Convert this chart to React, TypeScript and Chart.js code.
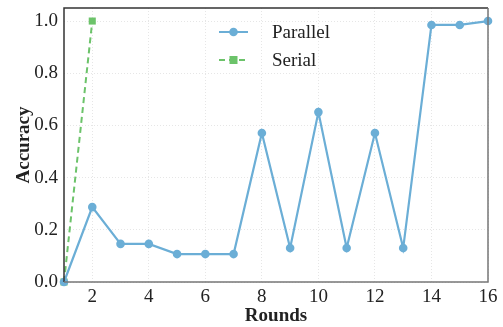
import React, { useEffect, useRef } from "react";
import { Chart, registerables } from "chart.js";

Chart.register(...registerables);

const rounds = [1, 2, 3, 4, 5, 6, 7, 8, 9, 10, 11, 12, 13, 14, 15, 16];
const parallel = [0, 0.287, 0.146, 0.146, 0.107, 0.107, 0.107, 0.571, 0.13, 0.651, 0.13, 0.571, 0.13, 0.985, 0.985, 1.0];
const serialRounds = [1, 2];
const serial = [0, 1.0];
const xTicks = [2, 4, 6, 8, 10, 12, 14, 16];
const yTicks = [0, 0.2, 0.4, 0.6, 0.8, 1.0];

const FONT = "'Liberation Serif', 'Times New Roman', serif";
const BLUE = "#6baed6";
const GREEN = "#6cc36a";

const framePlugin = {
  id: "frame",
  afterDatasetsDraw(chart: any) {
    const { ctx, chartArea: a } = chart;
    ctx.save();
    ctx.lineWidth = 1.5;
    ctx.strokeStyle = "#333";
    ctx.beginPath();
    ctx.moveTo(a.left, a.bottom);
    ctx.lineTo(a.left, a.top);
    ctx.lineTo(a.right, a.top);
    ctx.stroke();
    ctx.strokeStyle = "#777";
    ctx.beginPath();
    ctx.moveTo(a.right, a.top);
    ctx.lineTo(a.right, a.bottom);
    ctx.lineTo(a.left, a.bottom);
    ctx.stroke();
    ctx.restore();
  },
};

const legendPlugin = {
  id: "customLegend",
  afterDraw(chart: any) {
    const { ctx } = chart;
    const items = chart.data.datasets;
    ctx.save();
    items.forEach((ds: any, i: number) => {
      const y = 32 + i * 28;
      const x0 = 219;
      const x1 = 248;
      ctx.strokeStyle = ds.borderColor;
      ctx.lineWidth = 2;
      ctx.setLineDash(ds.borderDash || []);
      ctx.beginPath();
      ctx.moveTo(x0, y);
      ctx.lineTo(x1, y);
      ctx.stroke();
      ctx.setLineDash([]);
      ctx.fillStyle = ds.borderColor;
      const cx = (x0 + x1) / 2;
      if (ds.pointStyle === "rect") {
        ctx.fillRect(cx - 4, y - 4, 8, 8);
      } else {
        ctx.beginPath();
        ctx.arc(cx, y, 4.3, 0, Math.PI * 2);
        ctx.fill();
      }
      ctx.fillStyle = "#222";
      ctx.font = `19px ${FONT}`;
      ctx.textBaseline = "middle";
      ctx.textAlign = "left";
      ctx.fillText(ds.label, 272, y + 1);
    });
    ctx.restore();
  },
};

export default function App() {
  const ref = useRef<HTMLCanvasElement>(null);
  useEffect(() => {
    document.body.style.margin = "0";
    const chart = new Chart(ref.current!, {
      type: "line",
      data: {
        datasets: [
          {
            label: "Parallel",
            data: rounds.map((r, i) => ({ x: r, y: parallel[i] })),
            borderColor: BLUE,
            backgroundColor: BLUE,
            borderWidth: 2.2,
            pointRadius: 4.3,
            pointStyle: "circle",
            pointBorderWidth: 0,
          },
          {
            label: "Serial",
            data: serialRounds.map((r, i) => ({ x: r, y: serial[i] })),
            borderColor: GREEN,
            backgroundColor: GREEN,
            borderWidth: 2,
            borderDash: [6, 4],
            pointRadius: 5,
            pointStyle: "rect",
            pointBorderWidth: 0,
          },
        ],
      },
      options: {
        animation: false,
        responsive: false,
        clip: false as any,
        layout: { padding: { left: 13, top: 8, right: 15, bottom: 0 } } as any,
        plugins: { legend: { display: false }, tooltip: { enabled: false } },
        scales: {
          x: {
            type: "linear",
            min: 1,
            max: 16,
            afterBuildTicks: (s: any) => {
              s.ticks = xTicks.map((v) => ({ value: v }));
            },
            afterFit: (s: any) => {
              s.height = 45;
              s.paddingLeft = 0;
              s.paddingRight = 0;
            },
            grid: { color: "#e6e6e6", drawTicks: false } as any,
            border: { display: false, dash: [1, 2] } as any,
            ticks: {
              color: "#222",
              font: { family: FONT, size: 19 },
              padding: 4,
              maxRotation: 0,
            },
            title: {
              display: true,
              text: "Rounds",
              color: "#222",
              font: { family: FONT, size: 19, weight: "bold" },
              padding: { top: 0, bottom: 0 },
            },
          },
          y: {
            min: 0,
            max: 1.05,
            afterBuildTicks: (s: any) => {
              s.ticks = yTicks.map((v) => ({ value: v }));
            },
            afterFit: (s: any) => {
              s.width = 51;
              s.paddingTop = 0;
              s.paddingBottom = 0;
            },
            grid: { color: "#e6e6e6", drawTicks: false } as any,
            border: { display: false, dash: [1, 2] } as any,
            ticks: {
              color: "#222",
              font: { family: FONT, size: 19 },
              padding: 6,
              callback: (v: any) => Number(v).toFixed(1),
            },
            title: {
              display: true,
              text: "Accuracy",
              color: "#222",
              font: { family: FONT, size: 19, weight: "bold" },
              padding: { top: 0, bottom: 0 },
            },
          },
        },
      },
      plugins: [framePlugin, legendPlugin],
    });
    return () => chart.destroy();
  }, []);
  return <canvas ref={ref} width={503} height={327} style={{ display: "block", width: 503, height: 327 }} />;
}
